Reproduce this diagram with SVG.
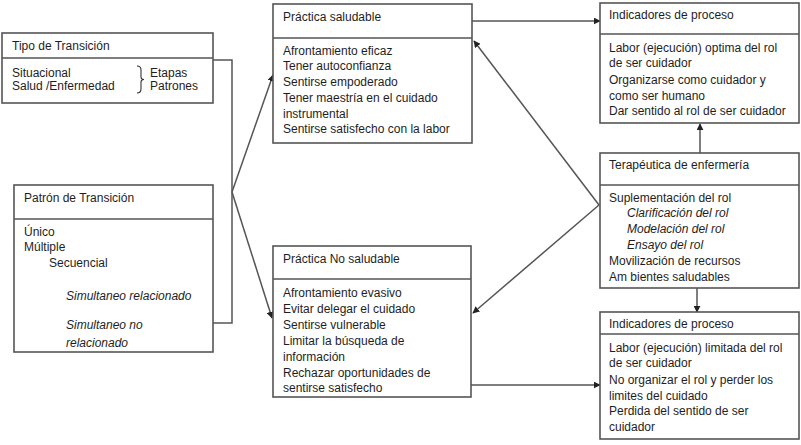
<svg xmlns="http://www.w3.org/2000/svg" width="801" height="445" viewBox="0 0 801 445">
<style>
.box{fill:#fff;stroke:#555;stroke-width:1.6}
.div{stroke:#555;stroke-width:1.6}
.t{font-family:"Liberation Sans",Arial,sans-serif;font-size:12px;fill:#1e1e1e}
.i{font-style:italic}
.c{fill:none;stroke:#555;stroke-width:1.5}
</style>
<defs>
<marker id="ah" viewBox="0 0 10 10" refX="9" refY="5" markerWidth="7" markerHeight="7" markerUnits="userSpaceOnUse" orient="auto">
<path d="M0,0 L10,5 L0,10 z" fill="#222"/>
</marker>
</defs>
<rect width="801" height="445" fill="#fff"/>
<g id="connectors">
<polyline class="c" points="213,60 232,60 232,323 213,323"/>
<line class="c" x1="232" y1="192" x2="273" y2="75" marker-end="url(#ah)"/>
<line class="c" x1="232" y1="192" x2="272" y2="318" marker-end="url(#ah)"/>
<line class="c" x1="472" y1="21" x2="600" y2="21" marker-end="url(#ah)"/>
<line class="c" x1="599" y1="205" x2="474" y2="41" marker-end="url(#ah)"/>
<line class="c" x1="599" y1="205" x2="473" y2="313" marker-end="url(#ah)"/>
<line class="c" x1="471" y1="385" x2="600" y2="385" marker-end="url(#ah)"/>
<line class="c" x1="700" y1="153" x2="700" y2="124" marker-end="url(#ah)"/>
<line class="c" x1="697" y1="288" x2="697" y2="312" marker-end="url(#ah)"/>
</g>
<g id="tipo">
<rect class="box" x="2" y="33" width="211" height="70"/>
<line class="div" x1="2" y1="58" x2="213" y2="58"/>
<text class="t" x="12" y="50">Tipo de Transición</text>
<text class="t" x="12" y="77">Situacional</text>
<text class="t" x="12" y="90">Salud /Enfermedad</text>
<path d="M137,66 Q141,66 141,70 L141,77 Q141,79.5 144,79.5 Q141,79.5 141,82 L141,89 Q141,93 137,93" fill="none" stroke="#333" stroke-width="1.1"/>
<text class="t" x="150" y="77">Etapas</text>
<text class="t" x="150" y="90">Patrones</text>
</g>
<g id="patron">
<rect class="box" x="14" y="185" width="199" height="167"/>
<line class="div" x1="14" y1="219" x2="213" y2="219"/>
<text class="t" x="24" y="202">Patrón de Transición</text>
<text class="t" x="24" y="236">Único</text>
<text class="t" x="24" y="251">Múltiple</text>
<text class="t" x="49" y="267">Secuencial</text>
<text class="t i" x="66" y="300">Simultaneo relacionado</text>
<text class="t i" x="66" y="329">Simultaneo no</text>
<text class="t i" x="66" y="347">relacionado</text>
</g>
<g id="saludable">
<rect class="box" x="273" y="4" width="199" height="139"/>
<line class="div" x1="273" y1="38" x2="472" y2="38"/>
<text class="t" x="283" y="21">Práctica saludable</text>
<text class="t" x="283" y="55">Afrontamiento eficaz</text>
<text class="t" x="283" y="70">Tener autoconfianza</text>
<text class="t" x="283" y="86">Sentirse empoderado</text>
<text class="t" x="283" y="102">Tener maestría en el cuidado</text>
<text class="t" x="283" y="118">instrumental</text>
<text class="t" x="283" y="133">Sentirse satisfecho con la labor</text>
</g>
<g id="nosaludable">
<rect class="box" x="273" y="246" width="198" height="151"/>
<line class="div" x1="273" y1="279" x2="471" y2="279"/>
<text class="t" x="283" y="263">Práctica No saludable</text>
<text class="t" x="283" y="297">Afrontamiento evasivo</text>
<text class="t" x="283" y="313">Evitar delegar el cuidado</text>
<text class="t" x="283" y="329">Sentirse vulnerable</text>
<text class="t" x="283" y="345">Limitar la búsqueda de</text>
<text class="t" x="283" y="361">información</text>
<text class="t" x="283" y="377">Rechazar oportunidades de</text>
<text class="t" x="283" y="392">sentirse satisfecho</text>
</g>
<g id="indicadores1">
<rect class="box" x="600" y="3" width="199" height="120"/>
<line class="div" x1="600" y1="34" x2="799" y2="34"/>
<text class="t" x="609" y="19">Indicadores de proceso</text>
<text class="t" x="609" y="52">Labor (ejecución) optima del rol</text>
<text class="t" x="609" y="67">de ser cuidador</text>
<text class="t" x="609" y="84">Organizarse como cuidador y</text>
<text class="t" x="609" y="100">como ser humano</text>
<text class="t" x="609" y="115">Dar sentido al rol de ser cuidador</text>
</g>
<g id="terapeutica">
<rect class="box" x="600" y="153" width="199" height="135"/>
<line class="div" x1="600" y1="185" x2="799" y2="185"/>
<text class="t" x="609" y="169">Terapéutica de enfermería</text>
<text class="t" x="609" y="202">Suplementación del rol</text>
<text class="t i" x="627" y="217">Clarificación del rol</text>
<text class="t i" x="627" y="233">Modelación del rol</text>
<text class="t i" x="627" y="249">Ensayo del rol</text>
<text class="t" x="609" y="265">Movilización de recursos</text>
<text class="t" x="609" y="281">Am bientes saludables</text>
</g>
<g id="indicadores2">
<rect class="box" x="600" y="312" width="199" height="127"/>
<line class="div" x1="600" y1="334" x2="799" y2="334"/>
<text class="t" x="609" y="328">Indicadores de proceso</text>
<text class="t" x="609" y="352">Labor (ejecución) limitada del rol</text>
<text class="t" x="609" y="367">de ser cuidador</text>
<text class="t" x="609" y="384">No organizar el rol y perder los</text>
<text class="t" x="609" y="400">limites del cuidado</text>
<text class="t" x="609" y="415">Perdida del sentido de ser</text>
<text class="t" x="609" y="431">cuidador</text>
</g>
</svg>
